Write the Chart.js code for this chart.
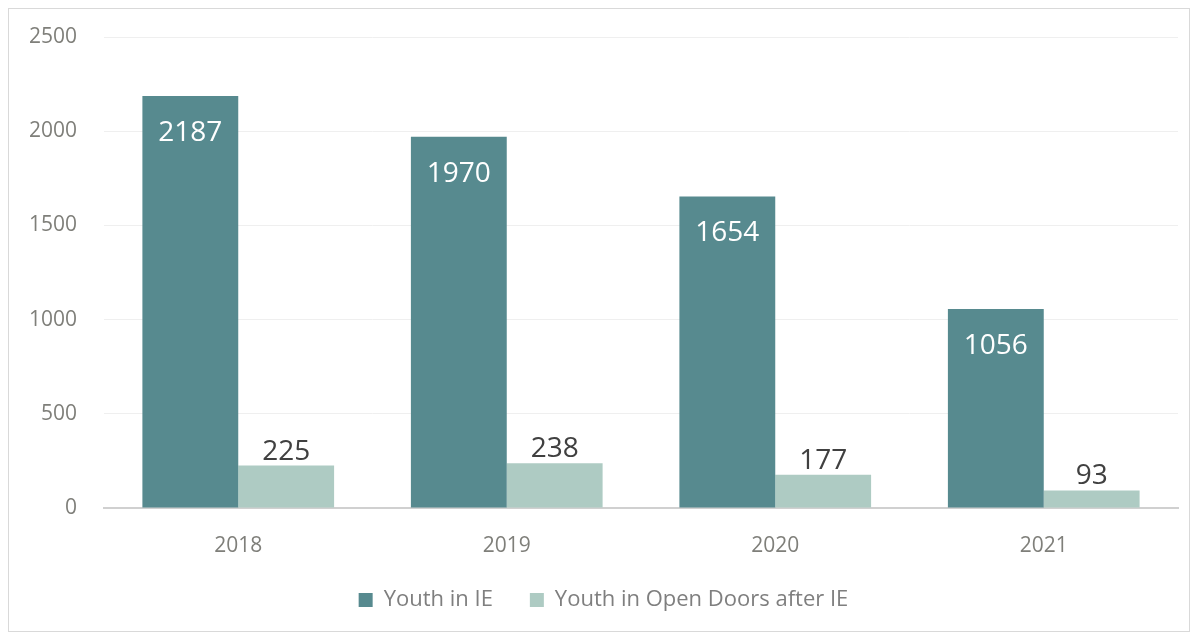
<!DOCTYPE html>
<html>
<head>
<meta charset="utf-8">
<script src="https://cdn.jsdelivr.net/npm/chart.js@4"></script>
<style>
  html,body{margin:0;padding:0;background:#fff;}
  #wrap{position:absolute;left:8px;top:8px;width:1182px;height:624px;border:1px solid #d9d9d9;box-sizing:border-box;}
  canvas{display:block;}
</style>
</head>
<body>
<div id="wrap"><canvas id="chart"></canvas></div>
<script>
const years = ['2018','2019','2020','2021'];
const youthInIE = [2187, 1970, 1654, 1056];
const youthOpenDoors = [225, 238, 177, 93];
const yTicks = [0, 500, 1000, 1500, 2000, 2500];

const FONT = "'Open Sans', 'Noto Sans', sans-serif";

// labels on bars: inside for dark series, above for light series
const barLabels = {
  id: 'barLabels',
  afterDatasetsDraw(chart){
    const ctx = chart.ctx;
    ctx.save();
    ctx.font = `28px ${FONT}`;
    ctx.textAlign = 'center';
    chart.data.datasets.forEach((ds, i) => {
      const meta = chart.getDatasetMeta(i);
      meta.data.forEach((bar, j) => {
        const v = ds.data[j];
        if (i === 0){
          ctx.fillStyle = '#ffffff';
          ctx.textBaseline = 'middle';
          ctx.fillText(v, bar.x, bar.y + 37);
        } else {
          ctx.fillStyle = '#404040';
          ctx.textBaseline = 'bottom';
          ctx.fillText(v, bar.x, bar.y);
        }
      });
    });
    ctx.restore();
  }
};

new Chart(document.getElementById('chart'), {
  type: 'bar',
  data: {
    labels: years,
    datasets: [
      { label: 'Youth in IE', data: youthInIE, backgroundColor: '#578a8f' },
      { label: 'Youth in Open Doors after IE', data: youthOpenDoors, backgroundColor: '#aecbc3' }
    ]
  },
  options: {
    responsive: true,
    maintainAspectRatio: false,
    animation: false,
    layout: { padding: { top: 28, right: 11, bottom: 10, left: 20 } },
    datasets: { bar: { categoryPercentage: 0.714, barPercentage: 1.0 } },
    plugins: {
      tooltip: { enabled: false },
      legend: {
        position: 'bottom',
        labels: {
          boxWidth: 14, boxHeight: 14, padding: 37,
          color: '#7f7f7f',
          font: { family: FONT, size: 22 }
        }
      }
    },
    scales: {
      x: {
        afterFit: s => { s.height = 44; },
        grid: { display: false, drawTicks: false },
        border: { display: true, color: '#d0d0d0', width: 2 },
        ticks: { color: '#7f7f7a', font: { family: FONT, size: 21 }, padding: 25 }
      },
      y: {
        min: 0, max: 2500,
        afterBuildTicks: s => { s.ticks = yTicks.map(v => ({ value: v })); },
        afterFit: s => { s.width = 75; s.paddingTop = 0; s.paddingBottom = 0; },
        grid: { color: '#efefef', lineWidth: 1, drawTicks: false },
        border: { display: false },
        ticks: { color: '#7f7f7a', font: { family: FONT, size: 21 }, padding: 27, callback: v => String(v) }
      }
    }
  },
  plugins: [barLabels]
});
</script>
</body>
</html>
